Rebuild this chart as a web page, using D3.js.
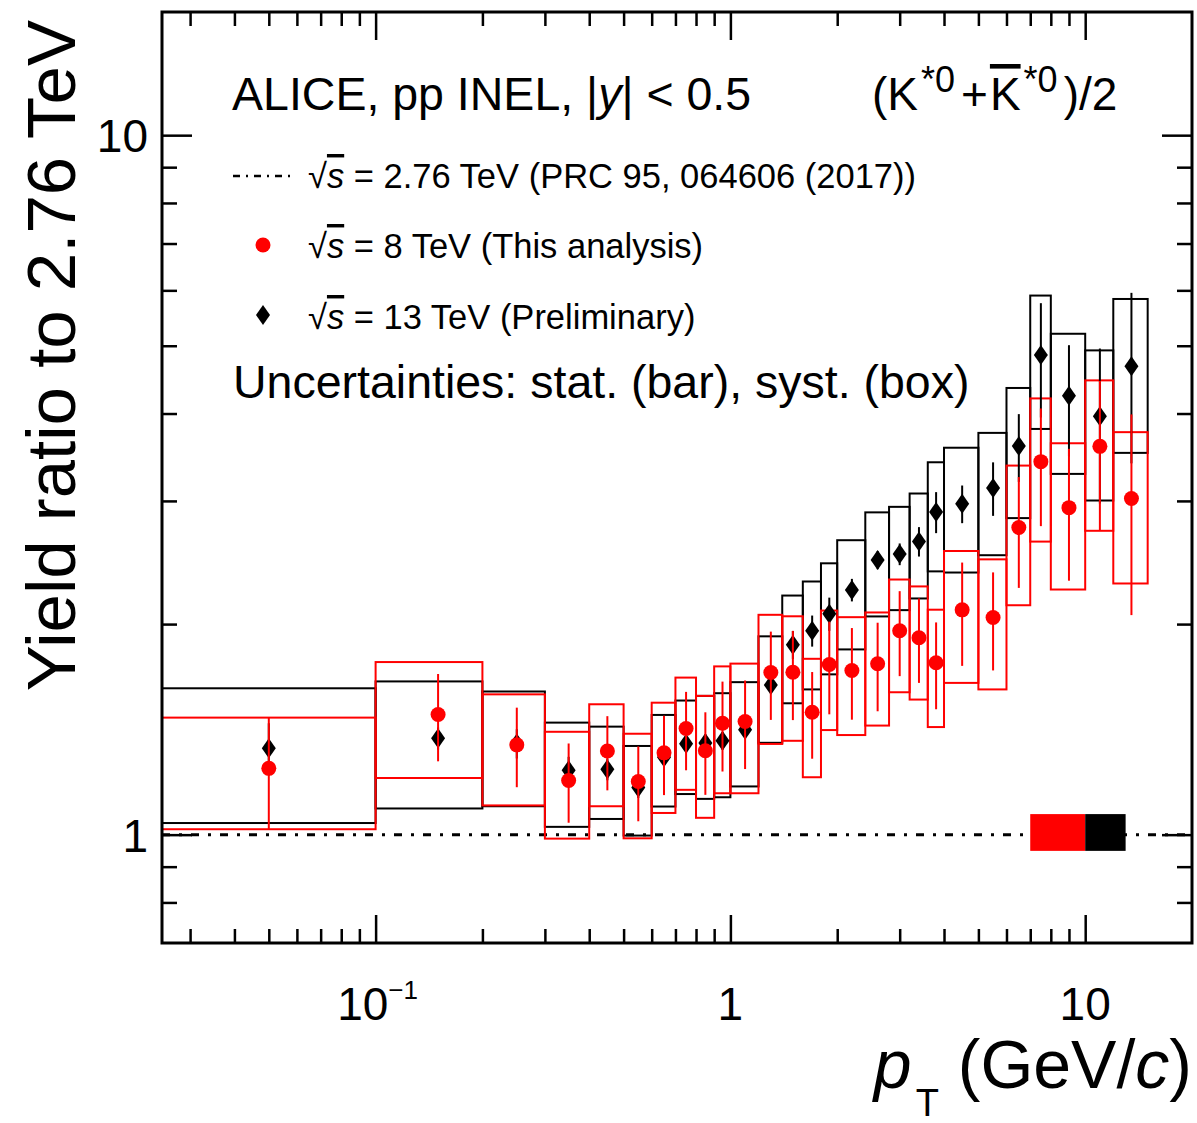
<!DOCTYPE html>
<html><head><meta charset="utf-8">
<script src="https://cdn.jsdelivr.net/npm/d3@7"></script>
<style>
body{margin:0;background:#fff}
svg{display:block}
text{font-family:"Liberation Sans",Arial,Helvetica,sans-serif;fill:#000}
</style>
</head><body>
<svg id="c" width="1197" height="1123"></svg>
<script>
// ---------- data ----------
const binEdges=[0,0.1,0.2,0.3,0.4,0.5,0.6,0.7,0.8,0.9,1.0,1.2,1.4,1.6,1.8,2.0,2.4,2.8,3.2,3.6,4.0,5.0,6.0,7.0,8.0,10,12,15];
const ptCenters=[0.05,0.15,0.25,0.35,0.45,0.55,0.65,0.75,0.85,0.95,1.1,1.3,1.5,1.7,1.9,2.2,2.6,3.0,3.4,3.8,4.5,5.5,6.5,7.5,9,11,13.5];

// sqrt(s) = 8 TeV / 2.76 TeV
const ratio8=[1.244,1.485,1.344,1.195,1.317,1.191,1.309,1.418,1.318,1.443,1.451,1.705,1.707,1.496,1.751,1.717,1.755,1.957,1.912,1.761,2.096,2.044,2.749,3.414,2.934,3.590,3.024];
const stat8 =[0.225,0.212,0.175,0.155,0.160,0.146,0.170,0.182,0.178,0.212,0.210,0.246,0.249,0.212,0.265,0.257,0.254,0.272,0.264,0.250,0.353,0.327,0.496,0.653,0.627,0.865,0.964];
const syst8 =[0.226,0.280,0.243,0.208,0.219,0.203,0.235,0.259,0.261,0.297,0.305,0.357,0.345,0.288,0.340,0.329,0.323,0.359,0.352,0.336,0.448,0.431,0.621,0.790,0.693,0.871,0.738];

// sqrt(s) = 13 TeV / 2.76 TeV
const ratio13=[1.329,1.373,1.350,1.236,1.240,1.168,1.290,1.349,1.352,1.362,1.412,1.637,1.869,1.957,2.069,2.238,2.470,2.518,2.625,2.893,2.972,3.131,3.593,4.850,4.240,3.964,4.673];
const stat13 =[0.114,0.050,0.065,0.056,0.044,0.040,0.040,0.040,0.040,0.040,0.040,0.045,0.086,0.100,0.113,0.083,0.074,0.090,0.127,0.195,0.184,0.275,0.399,0.902,0.769,0.990,1.278];
const syst13 =[0.290,0.283,0.252,0.210,0.187,0.171,0.193,0.206,0.227,0.231,0.240,0.284,0.328,0.344,0.374,0.398,0.419,0.424,0.449,0.514,0.602,0.622,0.758,1.048,0.961,0.960,1.159];

// normalisation uncertainty boxes [ptLow, ptHigh, low, high]
const norm8 =[7,10,0.948,1.07];
const norm13=[10,13,0.948,1.07];

const xMajorTicks=[0.1,1,10];
const xMajorLabels=[["10","\u22121"],["1",""],["10",""]];
const yMajorTicks=[1,10];
const yMajorLabels=["1","10"];

// ---------- layout ----------
const W=1197,H=1123;
const L=162,R=1192,T=12,B=943;
const x=d3.scaleLog().domain([0.025,20]).range([L,R]).clamp(true);
const y=d3.scaleLog().domain([0.7,15]).range([B,T]).clamp(true);

const svg=d3.select('#c');
svg.append('rect').attr('width',W).attr('height',H).attr('fill','#fff');
svg.append('defs').append('clipPath').attr('id','clip')
  .append('rect').attr('x',L).attr('y',T).attr('width',R-L).attr('height',B-T);
const g=svg.append('g').attr('clip-path','url(#clip)');

function rows(v,st,sy){
  return ptCenters.map((c,i)=>({c,lo:binEdges[i],hi:binEdges[i+1],v:v[i],st:st[i],sy:sy[i]}));
}
const d8=rows(ratio8,stat8,syst8);
const d13=rows(ratio13,stat13,syst13);

// reference line at 1
g.append('line').attr('x1',L).attr('x2',R).attr('y1',y(1)).attr('y2',y(1))
  .attr('stroke','#000').attr('stroke-width',3).attr('stroke-dasharray','8,9,3,9');

function boxes(data,color){
  g.append('g').selectAll('rect').data(data).join('rect')
    .attr('x',d=>x(d.lo)).attr('width',d=>x(d.hi)-x(d.lo))
    .attr('y',d=>y(d.v+d.sy)).attr('height',d=>y(d.v-d.sy)-y(d.v+d.sy))
    .attr('fill','none').attr('stroke',color).attr('stroke-width',2);
}
function bars(data,color){
  g.append('g').selectAll('line').data(data).join('line')
    .attr('x1',d=>x(d.c)).attr('x2',d=>x(d.c))
    .attr('y1',d=>y(d.v-d.st)).attr('y2',d=>y(d.v+d.st))
    .attr('stroke',color).attr('stroke-width',2);
}
const diamond="M0,-10L7,0L0,10L-7,0Z";

boxes(d13,'#000');
boxes(d8,'#ff0000');
bars(d13,'#000');
g.append('g').selectAll('path').data(d13).join('path')
  .attr('d',diamond).attr('transform',d=>`translate(${x(d.c)},${y(d.v)})`).attr('fill','#000');
bars(d8,'#ff0000');
g.append('g').selectAll('circle').data(d8).join('circle')
  .attr('cx',d=>x(d.c)).attr('cy',d=>y(d.v)).attr('r',7.5).attr('fill','#ff0000');

// normalisation boxes
[[norm8,'#ff0000'],[norm13,'#000']].forEach(([n,col])=>{
  g.append('rect').attr('x',x(n[0])).attr('width',x(n[1])-x(n[0]))
    .attr('y',y(n[3])).attr('height',y(n[2])-y(n[3])).attr('fill',col);
});

// ---------- axes ----------
function isPow10(t){const l=Math.log10(t);return Math.abs(l-Math.round(l))<1e-9;}
const xd=x.domain(), yd=y.domain();
const xMinor=x.ticks().filter(t=>!isPow10(t)&&t>xd[0]&&t<xd[1]);
const yMinor=y.ticks().filter(t=>!isPow10(t)&&t>yd[0]*1.0001&&t<yd[1]);
function st(sel){sel.select('.domain').remove();sel.selectAll('line').attr('stroke','#000').attr('stroke-width',2.5);sel.selectAll('text').remove();}

svg.append('g').attr('transform',`translate(0,${B})`).call(d3.axisBottom(x).tickValues(xMinor).tickSize(-14)).call(st);
svg.append('g').attr('transform',`translate(0,${B})`).call(d3.axisBottom(x).tickValues(xMajorTicks).tickSize(-28)).call(st);
svg.append('g').attr('transform',`translate(0,${T})`).call(d3.axisTop(x).tickValues(xMinor).tickSize(-14)).call(st);
svg.append('g').attr('transform',`translate(0,${T})`).call(d3.axisTop(x).tickValues(xMajorTicks).tickSize(-28)).call(st);
svg.append('g').attr('transform',`translate(${L},0)`).call(d3.axisLeft(y).tickValues(yMinor).tickSize(-15)).call(st);
svg.append('g').attr('transform',`translate(${L},0)`).call(d3.axisLeft(y).tickValues(yMajorTicks).tickSize(-30)).call(st);
svg.append('g').attr('transform',`translate(${R},0)`).call(d3.axisRight(y).tickValues(yMinor).tickSize(-15)).call(st);
svg.append('g').attr('transform',`translate(${R},0)`).call(d3.axisRight(y).tickValues(yMajorTicks).tickSize(-30)).call(st);

// frame
svg.append('rect').attr('x',L).attr('y',T).attr('width',R-L).attr('height',B-T)
  .attr('fill','none').attr('stroke','#000').attr('stroke-width',3);

// tick labels
xMajorTicks.forEach((t,i)=>{
  const [base,sup]=xMajorLabels[i];
  const tx=svg.append('text').attr('x',x(t)+(sup?2:0)).attr('y',1020)
    .attr('text-anchor','middle').attr('font-size',46);
  tx.append('tspan').text(base);
  if(sup) tx.append('tspan').attr('font-size',26).attr('dy',-21).text(sup);
});
yMajorTicks.forEach((t,i)=>{
  svg.append('text').attr('x',148).attr('y',y(t)+17).attr('text-anchor','end')
    .attr('font-size',46).text(yMajorLabels[i]);
});

// axis titles
const xt=svg.append('text').attr('x',1192).attr('y',1088).attr('text-anchor','end').attr('font-size',68);
xt.append('tspan').attr('font-style','italic').text('p');
xt.append('tspan').attr('font-size',38).attr('dy',28).attr('dx',4).text('T');
xt.append('tspan').attr('dy',-28).text(' (GeV/');
xt.append('tspan').attr('font-style','italic').text('c');
xt.append('tspan').text(')');

svg.append('text').attr('transform','translate(75,20) rotate(-90)').attr('text-anchor','end')
  .attr('font-size',69).text('Yield ratio to 2.76 TeV');

// header texts
const h1=svg.append('text').attr('x',232).attr('y',110).attr('font-size',46.5);
h1.append('tspan').text('ALICE, pp INEL, |');
h1.append('tspan').attr('font-style','italic').text('y');
h1.append('tspan').text('| < 0.5');

const h2=svg.append('text').attr('x',872).attr('y',110).attr('font-size',46);
h2.append('tspan').text('(K');
h2.append('tspan').attr('font-size',36).attr('dy',-18).attr('dx',3).text('*0');
h2.append('tspan').attr('dy',18).attr('dx',6).text('+');
h2.append('tspan').attr('dx',2).attr('style','text-decoration:overline').text('K');
h2.append('tspan').attr('font-size',36).attr('dy',-18).attr('dx',3).text('*0');
h2.append('tspan').attr('dy',18).attr('dx',6).text(')/2');

// legend
svg.append('line').attr('x1',233).attr('x2',292).attr('y1',176).attr('y2',176)
  .attr('stroke','#000').attr('stroke-width',2.5).attr('stroke-dasharray','7,6,2,6');
svg.append('circle').attr('cx',263).attr('cy',245).attr('r',7.5).attr('fill','#ff0000');
svg.append('path').attr('d',diamond).attr('transform','translate(263,315)').attr('fill','#000');

const legendLabels=[' = 2.76 TeV (PRC 95, 064606 (2017))',' = 8 TeV (This analysis)',' = 13 TeV (Preliminary)'];
const legendY=[188,258,329];
legendLabels.forEach((lab,i)=>{
  const t=svg.append('text').attr('x',308).attr('y',legendY[i]).attr('font-size',34.5);
  t.append('tspan').text('\u221A');
  t.append('tspan').attr('font-style','italic').attr('style','text-decoration:overline').text('s');
  t.append('tspan').text(lab);
});
svg.append('text').attr('x',233).attr('y',398).attr('font-size',46.5)
  .text('Uncertainties: stat. (bar), syst. (box)');
</script>
</body></html>
